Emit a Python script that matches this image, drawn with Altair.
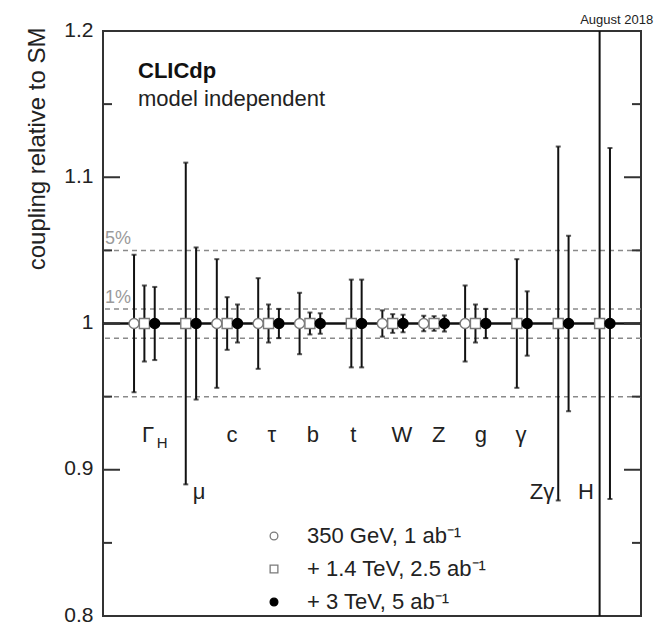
import altair as alt
import pandas as pd

# ---------------- data ----------------
groups = ["ΓH", "μ", "c", "τ", "b", "t", "W", "Z", "g", "γ", "Zγ", "H"]
series = ["350 GeV, 1 ab⁻¹", "+ 1.4 TeV, 2.5 ab⁻¹", "+ 3 TeV, 5 ab⁻¹"]
series_offset = [-0.25, 0.0, 0.25]

central = [1.0] * 12
err_350 = [0.047, None, 0.044, 0.031, 0.021, None, 0.0090, 0.0053, 0.026, None, None, None]
err_1400 = [0.026, 0.110, 0.018, 0.013, 0.0075, 0.030, 0.0064, 0.0050, 0.013, 0.044, 0.121, 0.300]
err_3000 = [0.025, 0.052, 0.013, 0.010, 0.0070, 0.030, 0.0060, 0.0055, 0.010, 0.022, 0.060, 0.120]

label_text = ["Γ", "μ", "c", "τ", "b", "t", "W", "Z", "g", "γ", "Zγ", "H"]
label_sub = ["H", "", "", "", "", "", "", "", "", "", "", ""]
label_x = [1.09, 2.32, 3.12, 4.08, 5.07, 6.05, 7.22, 8.11, 9.13, 10.10, 10.61, 11.67]
label_y = [0.919, 0.880, 0.919, 0.919, 0.919, 0.919, 0.919, 0.919, 0.919, 0.919, 0.880, 0.880]

band_values = [1.05, 1.01, 0.99, 0.95]
band_labels = ["5%", "1%", "", ""]

y_major = [0.8, 0.9, 1.0, 1.1, 1.2]
y_minor = [0.85, 0.95, 1.05, 1.15]

# ---------------- tables ----------------
rows = []
for si, errs in enumerate([err_350, err_1400, err_3000]):
    for gi, e in enumerate(errs):
        if e is None:
            continue
        rows.append({
            "group": groups[gi],
            "series": series[si],
            "x": gi + 1 + series_offset[si],
            "y": central[gi],
            "lo": central[gi] - e,
            "hi": central[gi] + e,
        })
pts = pd.DataFrame(rows)
labels = pd.DataFrame({"text": label_text, "sub": label_sub, "x": label_x, "y": label_y})
bands = pd.DataFrame({"y": band_values, "label": band_labels})
major = pd.DataFrame({"y": y_major})
minor = pd.DataFrame({"y": y_minor})
notes = pd.DataFrame({
    "text": ["CLICdp", "model independent"],
    "x": [0.846, 0.846],
    "y": [1.1679, 1.1487],
    "weight": ["bold", "normal"],
})
stamp = pd.DataFrame({"text": ["August 2018"], "x": [11.53], "y": [1.2045]})

W, H = 538, 585
FONT = "Liberation Sans"

xs = alt.Scale(domain=[0, 13], nice=False, zero=False)
ys = alt.Scale(domain=[0.8, 1.2], nice=False, zero=False)

y_axis = alt.Axis(
    values=y_major, format="~g", labelFontSize=21, labelFont=FONT, labelColor="#222",
    ticks=False, domain=False, grid=False, labelPadding=10, labelOffset=-1,
    title="coupling relative to SM", titleFontSize=24, titleFont=FONT, titleFontWeight="normal",
    titleColor="#222", titleAngle=270, titleAlign="right", titleBaseline="middle",
    titleX=-66, titleY=-4,
)

X = lambda f: alt.X(f, type="quantitative", scale=xs, axis=None)
Y = lambda f: alt.Y(f, type="quantitative", scale=ys, axis=y_axis)

dashed = alt.Chart(bands).mark_rule(strokeDash=[5, 4], color="#8a8a8a", strokeWidth=1.5).encode(
    y=Y("y")
)
pct = alt.Chart(bands).transform_filter("datum.label != ''").mark_text(
    align="left", baseline="bottom", fontSize=18, font=FONT, color="#9a9a9a", dx=2, dy=-2
).encode(x=alt.value(0), y=Y("y"), text="label:N")
one = alt.Chart(pd.DataFrame({"y": [1.0]})).mark_rule(color="#111", strokeWidth=2.5).encode(y=Y("y"))

bars = alt.Chart(pts).mark_rule(color="#111", strokeWidth=2, clip=True).encode(
    x=X("x"), y=Y("lo"), y2="hi"
)
caps = alt.Chart(pts).transform_fold(["lo", "hi"], as_=["end", "v"]).mark_tick(
    orient="horizontal", size=5, thickness=2, color="#111", clip=True
).encode(x=X("x"), y=Y("v"))

leg = alt.Legend(
    title=None, orient="none", legendX=160, legendY=494, labelFontSize=22, labelFont=FONT,
    labelColor="#222", symbolSize=60, symbolStrokeWidth=1.3, labelOffset=22, rowPadding=11,
    padding=0, labelLimit=400,
)
markers = alt.Chart(pts).mark_point(filled=True, opacity=1, size=100, strokeWidth=1.4).encode(
    x=X("x"), y=Y("y"),
    shape=alt.Shape("series:N", scale=alt.Scale(domain=series, range=["circle", "square", "circle"]), legend=leg),
    fill=alt.Fill("series:N", scale=alt.Scale(domain=series, range=["white", "white", "black"]), legend=leg),
    stroke=alt.Stroke("series:N", scale=alt.Scale(domain=series, range=["#7a7a7a", "#7a7a7a", "black"]), legend=leg),
)

tick_l_major = alt.Chart(major).mark_rule(color="#333", strokeWidth=2).encode(
    y=Y("y"), x=alt.value(0), x2=alt.value(17))
tick_r_major = alt.Chart(major).mark_rule(color="#333", strokeWidth=2).encode(
    y=Y("y"), x=alt.value(W - 17), x2=alt.value(W))
tick_l_minor = alt.Chart(minor).mark_rule(color="#333", strokeWidth=2).encode(
    y=Y("y"), x=alt.value(0), x2=alt.value(9))
tick_r_minor = alt.Chart(minor).mark_rule(color="#333", strokeWidth=2).encode(
    y=Y("y"), x=alt.value(W - 9), x2=alt.value(W))

lab = alt.Chart(labels).mark_text(
    align="center", baseline="alphabetic", fontSize=22, font=FONT, color="#222"
).encode(x=X("x"), y=Y("y"), text="text:N")
sub = alt.Chart(labels).transform_filter("datum.sub != ''").mark_text(
    align="center", baseline="alphabetic", fontSize=15, font=FONT, color="#222", dx=14, dy=6
).encode(x=X("x"), y=Y("y"), text="sub:N")

note_b = alt.Chart(notes).transform_filter("datum.weight == 'bold'").mark_text(
    align="left", baseline="alphabetic", fontSize=22, font=FONT, fontWeight="bold", color="#111"
).encode(x=X("x"), y=Y("y"), text="text:N")
note_n = alt.Chart(notes).transform_filter("datum.weight == 'normal'").mark_text(
    align="left", baseline="alphabetic", fontSize=22, font=FONT, color="#222"
).encode(x=X("x"), y=Y("y"), text="text:N")
stamp_t = alt.Chart(stamp).mark_text(
    align="left", baseline="alphabetic", fontSize=13, font=FONT, color="#222"
).encode(x=X("x"), y=Y("y"), text="text:N")

chart = alt.layer(
    dashed, pct, one, bars, caps, markers,
    tick_l_major, tick_r_major, tick_l_minor, tick_r_minor,
    lab, sub, note_b, note_n, stamp_t,
).properties(
    width=W, height=H,
    autosize=alt.AutoSizeParams(type="none"),
    padding={"left": 103, "top": 31, "right": 14, "bottom": 9},
    background="white",
).configure_view(stroke="#333", strokeWidth=2)

chart.save("out.html", embed_options={"renderer": "svg", "actions": False})
